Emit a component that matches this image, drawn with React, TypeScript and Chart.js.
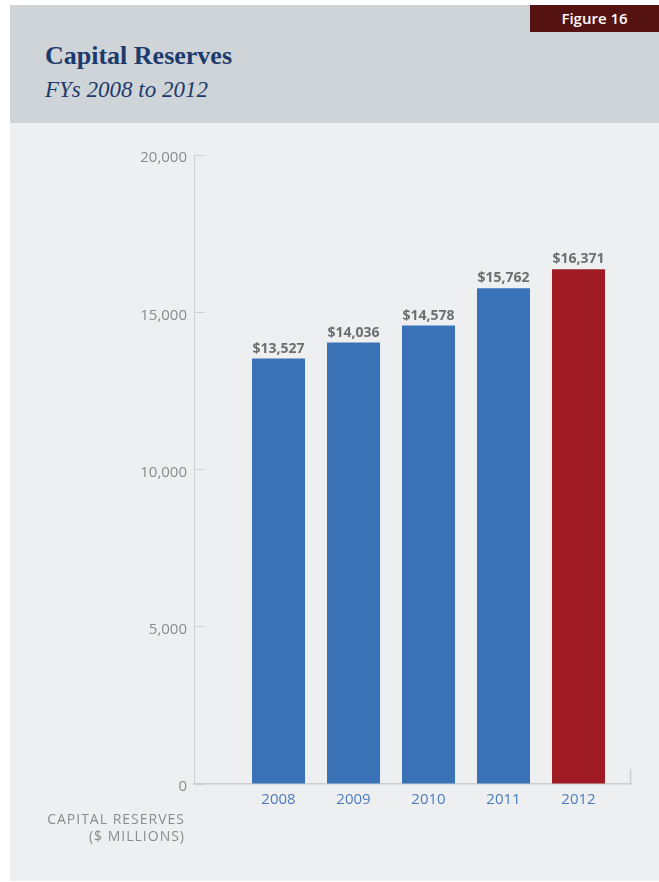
import React, { useEffect, useRef } from "react";
import { Chart, registerables } from "chart.js";

Chart.register(...registerables);

const years = ["2008", "2009", "2010", "2011", "2012"];
const reserves = [13527, 14036, 14578, 15762, 16371];
const barColors = ["#3a72b8", "#3a72b8", "#3a72b8", "#3a72b8", "#9f1c24"];
const yTicks = [0, 5000, 10000, 15000, 20000];

const SANS = "'Open Sans', 'DejaVu Sans', sans-serif";
const SERIF = "'Liberation Serif', 'DejaVu Serif', serif";

const valueLabels = {
  id: "valueLabels",
  afterDatasetsDraw(chart: any) {
    const ctx = chart.ctx;
    const meta = chart.getDatasetMeta(0);
    ctx.save();
    ctx.font = `bold 14px ${SANS}`;
    ctx.fillStyle = "#6e6e6e";
    ctx.textAlign = "center";
    ctx.textBaseline = "alphabetic";
    meta.data.forEach((bar: any, i: number) => {
      ctx.fillText("$" + reserves[i].toLocaleString("en-US"), bar.x, bar.y - 6);
    });
    ctx.restore();
  },
};

const axisEndCap = {
  id: "axisEndCap",
  afterDraw(chart: any) {
    const { ctx, chartArea } = chart;
    ctx.save();
    ctx.strokeStyle = "#cdcdcd";
    ctx.lineWidth = 1.5;
    ctx.beginPath();
    const x = Math.round(chartArea.right) - 0.5;
    ctx.moveTo(x, chartArea.bottom - 15);
    ctx.lineTo(x, chartArea.bottom + 0.5);
    ctx.stroke();
    ctx.restore();
  },
};

export default function App() {
  const ref = useRef<HTMLCanvasElement>(null);

  useEffect(() => {
    if (!ref.current) return;
    const chart = new Chart(ref.current, {
      type: "bar",
      data: {
        datasets: [
          {
            data: years.map((_, i) => ({ x: i, y: reserves[i] })) as any,
            backgroundColor: barColors,
            borderWidth: 0,
            barPercentage: 0.707,
            categoryPercentage: 1,
          },
        ],
      },
      options: {
        animation: false,
        responsive: false,
        events: [],
        layout: { padding: { top: 155, right: 28, bottom: 58, left: 0 } },
        plugins: {
          legend: { display: false },
          tooltip: { enabled: false },
          title: { display: false },
        },
        scales: {
          x: {
            type: "linear",
            offset: false,
            min: -1.127,
            max: 4.7,
            afterBuildTicks: (axis: any) => {
              axis.ticks = years.map((_, i) => ({ value: i }));
            },
            afterFit: (axis: any) => {
              axis.height = 40;
            },
            grid: { display: false, drawTicks: false, offset: false },
            border: { display: true, color: "#cdcdcd", width: 1.5 },
            ticks: {
              autoSkip: false,
              maxRotation: 0,
              padding: 7,
              color: "#4a7cc0",
              font: { family: SANS, size: 15 },
              callback: (v: any) => years[v] ?? "",
            },
          },
          y: {
            type: "linear",
            min: 0,
            max: 20000,
            afterBuildTicks: (axis: any) => {
              axis.ticks = yTicks.map((v) => ({ value: v }));
            },
            afterFit: (axis: any) => {
              axis.width = 194;
            },
            grid: {
              drawOnChartArea: false,
              drawTicks: true,
              tickLength: -11,
              color: "#d0d0d0",
              lineWidth: 1,
            },
            border: { display: true, color: "#d0d0d0", width: 1 },
            ticks: {
              padding: 18,
              labelOffset: 3,
              color: "#8b8b8b",
              font: { family: SANS, size: 15 },
              callback: (v: any) => Number(v).toLocaleString("en-US"),
            },
          },
        },
      },
      plugins: [valueLabels, axisEndCap],
    });
    return () => chart.destroy();
  }, []);

  return (
    <div
      style={{
        position: "absolute",
        left: 0,
        top: 0,
        width: 659,
        height: 882,
        background: "#ffffff",
        overflow: "hidden",
      }}
    >
      <div
        style={{
          position: "absolute",
          left: 10,
          top: 5,
          width: 649,
          height: 118,
          background: "#cfd4d8",
        }}
      />
      <div
        style={{
          position: "absolute",
          left: 10,
          top: 123,
          width: 649,
          height: 758,
          background: "#eeeff1",
        }}
      />
      <div
        style={{
          position: "absolute",
          left: 530,
          top: 5,
          width: 129,
          height: 27,
          background: "#541311",
          color: "#ffffff",
          fontFamily: SANS,
          fontWeight: 600,
          fontSize: 15,
          lineHeight: "27px",
          textAlign: "center",
        }}
      >
        Figure 16
      </div>
      <div
        style={{
          position: "absolute",
          left: 45,
          top: 43,
          fontFamily: SERIF,
          fontWeight: 700,
          fontSize: 26,
          lineHeight: "26px",
          color: "#1d3a6c",
          whiteSpace: "nowrap",
        }}
      >
        Capital Reserves
      </div>
      <div
        style={{
          position: "absolute",
          left: 45,
          top: 78,
          fontFamily: SERIF,
          fontStyle: "italic",
          fontSize: 23,
          lineHeight: "23px",
          color: "#1d3a6c",
          whiteSpace: "nowrap",
        }}
      >
        FYs 2008 to 2012
      </div>
      <canvas
        ref={ref}
        width={659}
        height={882}
        style={{ position: "absolute", left: 0, top: 0, width: 659, height: 882 }}
      />
      <div
        style={{
          position: "absolute",
          right: 659 - 185,
          top: 810,
          fontFamily: SANS,
          fontSize: 14,
          lineHeight: "17px",
          letterSpacing: 1,
          color: "#8b8b8b",
          textAlign: "right",
          whiteSpace: "nowrap",
        }}
      >
        CAPITAL RESERVES
        <br />
        ($ MILLIONS)
      </div>
    </div>
  );
}
